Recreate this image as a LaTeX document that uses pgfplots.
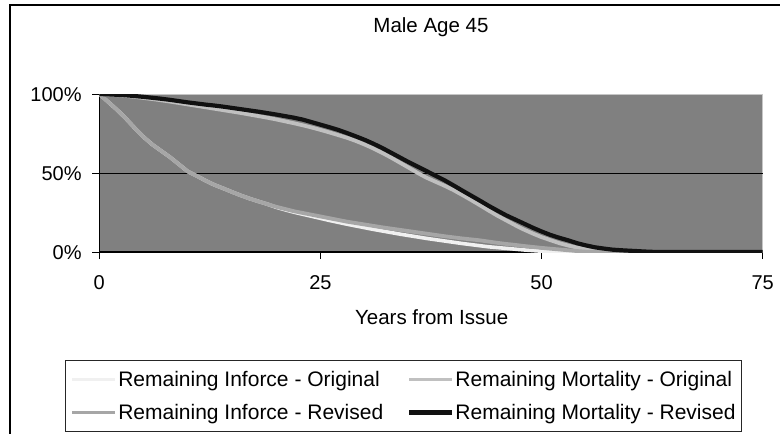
\documentclass[border=0pt]{standalone}
\usepackage{fontspec}
\setmainfont{Liberation Sans}
\usepackage{pgfplots}
\pgfplotsset{compat=1.18}
\usepackage{pgfplotstable}

\definecolor{plotbg}{RGB}{128,128,128}
\definecolor{inforig}{RGB}{240,240,240}
\definecolor{mortorig}{RGB}{192,192,192}
\definecolor{infrev}{RGB}{166,166,166}
\definecolor{mortrev}{RGB}{17,17,17}

\pgfplotstableread{
year io mo ir mr
0 100 100 100 100
1 95 99.7 95 99.8
2 90 99.3 90 99.5
3 84.5 98.8 84.5 99.2
4 78.5 98.2 78.5 98.7
5 72.8 97.5 72.8 98.2
6 68 96.8 68 97.6
7 64 96 64 97
8 60 95.2 60 96.3
9 55.5 94.3 55.5 95.5
10 51 93.4 51 94.7
11 48.2 92.5 48.2 94
12 45.2 91.6 45.2 93.3
13 42.5 90.7 42.5 92.7
14 40.3 89.8 40.3 92
15 38 88.9 38 91.2
16 35.8 88 35.8 90.4
17 33.8 87 33.8 89.6
18 32 86 32 88.8
19 30.3 85 30.3 87.9
20 28.3 83.9 28.6 87
21 26.7 82.7 27.2 86
22 25.2 81.5 25.8 85
23 23.9 80.2 24.7 83.8
24 22.6 78.8 23.6 82.2
25 21.3 77.3 22.5 80.6
26 20 75.7 21.4 79
27 18.8 74 20.3 77.3
28 17.6 72.3 19.2 75.3
29 16.5 70.3 18.3 73.2
30 15.4 68 17.4 71
31 14.3 65.5 16.5 68.5
32 13.3 62.7 15.6 65.8
33 12.3 59.7 14.8 62.8
34 11.3 56.5 14 59.8
35 10.4 53.3 13.2 56.8
36 9.5 50 12.4 54
37 8.6 47 11.6 51.2
38 7.8 44.5 10.8 48.3
39 7 42 10 45.5
40 6.2 39.3 9.3 42.3
41 5.4 36.2 8.6 39
42 4.7 33 8 35.8
43 4 29.7 7.4 32.6
44 3.3 26.3 6.6 29.3
45 2.8 23 5.8 26.2
46 2.3 20 5.1 23.2
47 1.8 17 4.5 20.6
48 1.3 14.2 3.8 18
49 0.9 11.7 3.2 15.4
50 0.5 9.4 2.6 13
51 0.2 7.5 2.1 10.8
52 0 5.6 1.6 9
53 0 4.1 1.1 7.4
54 0 2.8 0.6 5.6
55 0 1.8 0.2 4.2
56 0 1 0 3
57 0 0.5 0 2.2
58 0 0.2 0 1.5
59 0 0 0 1.1
60 0 0 0 0.8
61 0 0 0 0.5
62 0 0 0 0.2
63 0 0 0 0
64 0 0 0 0
65 0 0 0 0
66 0 0 0 0
67 0 0 0 0
68 0 0 0 0
69 0 0 0 0
70 0 0 0 0
71 0 0 0 0
72 0 0 0 0
73 0 0 0 0
74 0 0 0 0
75 0 0 0 0
}\datatable

\begin{document}
\begin{tikzpicture}
\begin{axis}[
  scale only axis, width=663.4pt, height=158pt,
  xmin=0, xmax=75, ymin=0, ymax=100,
  xtick={0,25,50,75}, xticklabels={0,25,50,75},
  ytick={0,50,100}, yticklabels={0\%,50\%,100\%},
  axis x line*=bottom, axis y line*=left,
  axis line style={black, line width=1.2pt, -},
  tick align=outside, major tick length=7pt,
  tick style={black, line width=1pt},
  axis background/.style={fill=plotbg, draw=gray!45},
  extra y ticks={50}, extra y tick labels={},
  extra y tick style={grid=major, major grid style={black, line width=0.9pt}},
  tick label style={font=\fontsize{20}{24}\selectfont, inner sep=0pt},
  xticklabel style={anchor=base, yshift=-30pt},
  yticklabel style={anchor=base east, xshift=-10.5pt, yshift=-7.2pt},
  title={Male Age 45},
  title style={at={(axis description cs:0.5,1.354)}, anchor=base, inner sep=0pt, font=\fontsize{20.5}{24}\selectfont},
  xlabel={Years from Issue},
  xlabel style={at={(axis description cs:0.501,-0.462)}, anchor=base, inner sep=0pt, font=\fontsize{20.5}{24}\selectfont},
  legend columns=2,
  legend cell align=left,
  legend style={at={(axis description cs:-0.0517,-0.6835)}, anchor=north west,
    draw=black!85, line width=1pt, inner xsep=5pt, inner ysep=2.5pt,
    font=\fontsize{21}{24}\selectfont,
    nodes={inner xsep=1pt, inner ysep=0pt, text height=23.5pt, text depth=9.5pt},
    /tikz/every even column/.append style={column sep=23pt}, row sep=0pt},
  legend image code/.code={\draw[#1] (0pt,0pt) -- (43pt,0pt);},
]
\addplot[color=inforig, line width=3.6pt, line join=round] table[x=year, y=io] {\datatable};
\addlegendentry{Remaining Inforce - Original}
\addplot[color=mortorig, line width=3.8pt, line join=round] table[x=year, y=mo] {\datatable};
\addlegendentry{Remaining Mortality - Original}
\addplot[color=infrev, line width=3.8pt, line join=round] table[x=year, y=ir] {\datatable};
\addlegendentry{Remaining Inforce - Revised}
\addplot[color=mortrev, line width=4.2pt, line join=round] table[x=year, y=mr] {\datatable};
\addlegendentry{Remaining Mortality - Revised}
\coordinate (O) at (rel axis cs:0,0);
\end{axis}
\useasboundingbox[shift={(O)}] (-99.3pt,-182pt) rectangle (680.7pt,252pt);
\draw[shift={(O)}, line width=1.3pt] (-89.3pt,-200pt) -- (-89.3pt,247pt) -- (700pt,247pt);
\end{tikzpicture}
\end{document}
